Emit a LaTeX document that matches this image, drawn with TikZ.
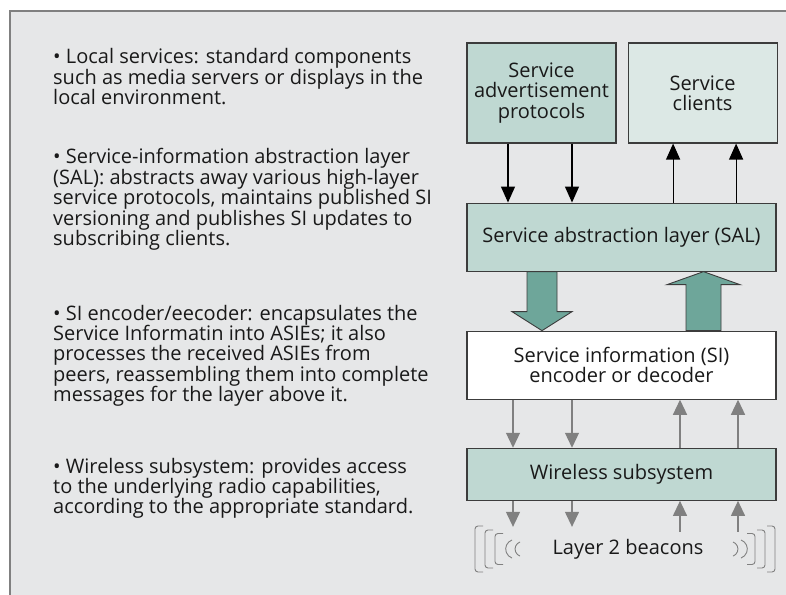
\documentclass[tikz,border=0pt]{standalone}
\usepackage{fontspec}
\setmainfont{Open Sans}
\usetikzlibrary{positioning,calc,arrows.meta}

\definecolor{panelgray}{HTML}{E6E7E8}
\definecolor{framegray}{HTML}{808080}
\definecolor{tealfill}{HTML}{BFD8D2}
\definecolor{lightfill}{HTML}{DCE8E5}
\definecolor{bigfill}{HTML}{6EA69A}
\definecolor{edgegray}{HTML}{3C3C3C}
\definecolor{beamgray}{HTML}{808080}

\tikzset{
   txt/.style={font=\fontsize{20bp}{20.4bp}\selectfont, text=black!90, inner sep=0pt},
   notes/.style={txt, align=left, anchor=north west},
   layer/.style={txt, draw=edgegray, line width=1.1bp, align=center},
   tealbox/.style={layer, fill=tealfill},
   lightbox/.style={layer, fill=lightfill},
   whitebox/.style={layer, fill=white},
   blkarrow/.style={line width=1.2bp, -{Triangle[length=16bp,width=14bp]}},
   grayarrow/.style={draw=beamgray, line width=1.2bp, -{Triangle[length=15bp,width=14bp]}, beamgray},
   bigarrow/.style={fill=bigfill, draw=edgegray, line width=0.9bp},
   beam/.style={draw=beamgray, line width=0.9bp}
}

\begin{document}
\begin{tikzpicture}[x=1bp,y=1bp]
   \useasboundingbox (0,0) rectangle (786,-595);
   \fill[panelgray] (10,-11) rectangle (786,-595);
   \draw[framegray, line width=1.6bp] (10,-595) -- (10,-11) -- (786,-11);

   \node[notes] (n1) at (53,-48.3) {• Local services: standard components\\such as media servers or displays in the\\local environment.};
   \node[notes] (n2) at (53,-148.3) {• Service-information abstraction layer\\(SAL): abstracts away various high-layer\\service protocols, maintains published SI\\versioning and publishes SI updates to\\subscribing clients.};
   \node[notes] (n3) at (53,-304.8) {• SI encoder/eecoder: encapsulates the\\Service Informatin into ASIEs; it also\\processes the received ASIEs from\\peers, reassembling them into complete\\messages for the layer above it.};
   \node[notes] (n4) at (53,-457.8) {• Wireless subsystem: provides access\\to the underlying radio capabilities,\\according to the appropriate standard.};

   \node[tealbox, minimum width=149bp, minimum height=100bp] (adv) at (541.5,-93) {Service\\advertisement\\protocols};
   \node[lightbox, minimum width=149bp, minimum height=100bp, right=11bp of adv] (cli) {Service\\clients};
   \node[tealbox, minimum width=309bp, minimum height=68bp, below=59bp of adv.south west, anchor=north west] (sal) {Service abstraction layer (SAL)};
   \node[whitebox, minimum width=309bp, minimum height=68bp, below=59bp of sal.south west, anchor=north west] (sienc) {Service information (SI)\\encoder or decoder};
   \node[tealbox, minimum width=309bp, minimum height=52bp, below=48bp of sienc.south west, anchor=north west] (wls) {Wireless subsystem};
   \node[txt] (bcn) at (628,-549) {Layer 2 beacons};

   \foreach \dx [count=\i] in {-33.5,30.5}{
      \coordinate (ad\i) at ([xshift=\dx bp]adv.south);
      \draw[blkarrow] (ad\i) -- (ad\i |- sal.north);
   }
   \foreach \dx [count=\i] in {-29.5,33.5}{
      \coordinate (cu\i) at ([xshift=\dx bp]cli.south);
      \draw[blkarrow] (cu\i |- sal.north) -- (cu\i);
   }

   \coordinate (bd) at ([xshift=-79.5bp]sal.south);
   \coordinate (bu) at ([xshift=82bp]sal.south);
   \filldraw[bigarrow] ([xshift=-15bp]bd) -- ++(0,-40) -- ++(-15,0) -- (bd |- sienc.north) -- ++(30,19) -- ++(-15,0) -- ([xshift=15bp]bd) -- cycle;
   \filldraw[bigarrow] (bu) -- ++(36.5,-13) -- ++(-19,0) -- ++(0,-46) -- ++(-35,0) -- ++(0,46) -- ++(-19,0) -- cycle;

   \foreach \dx [count=\i] in {-108.5,-49.5}{
      \coordinate (sd\i) at ([xshift=\dx bp]sienc.south);
      \draw[grayarrow] (sd\i) -- (sd\i |- wls.north);
      \coordinate (wd\i) at ([xshift=\dx bp, yshift=-26bp]wls.south);
      \draw[grayarrow] (wd\i |- wls.south) -- (wd\i);
   }
   \foreach \dx [count=\i] in {58.5,116.5}{
      \coordinate (su\i) at ([xshift=\dx bp]sienc.south);
      \draw[grayarrow] (su\i |- wls.north) -- (su\i);
      \coordinate (wu\i) at ([xshift=\dx bp, yshift=-31bp]wls.south);
      \draw[grayarrow] (wu\i) -- (wu\i |- wls.south);
   }

   \foreach \x/\h in {475/23,485/19,495/15.5}
      \draw[beam, rounded corners=3bp] (\x+8,-549+\h) -- (\x,-549+\h) -- (\x,-549-\h) -- (\x+8,-549-\h);
   \foreach \x/\h in {775/23,765/19,755/15.5}
      \draw[beam, rounded corners=3bp] (\x-8,-549+\h) -- (\x,-549+\h) -- (\x,-549-\h) -- (\x-8,-549-\h);
   \draw[beam] (512,-540) arc[start angle=110, end angle=250, radius=9.6];
   \draw[beam] (520,-542) arc[start angle=110, end angle=250, radius=7.5];
   \draw[beam] (733,-542) arc[start angle=70, end angle=-70, radius=7.5];
   \draw[beam] (741,-540) arc[start angle=70, end angle=-70, radius=9.6];
\end{tikzpicture}
\end{document}
